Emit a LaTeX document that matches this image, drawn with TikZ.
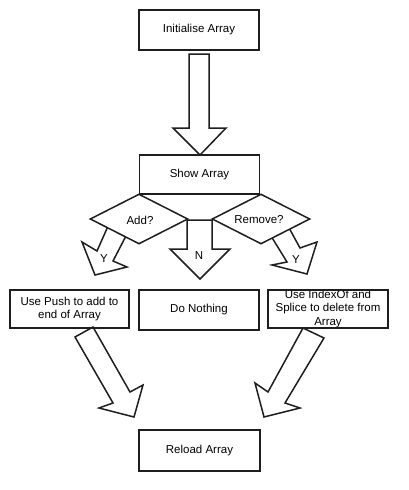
\documentclass[tikz,border=0pt]{standalone}
\usepackage{fontspec}
\setmainfont{Liberation Sans}
\usetikzlibrary{shapes.geometric}
\begin{document}
\begin{tikzpicture}[x=1pt,y=-1pt,
  line join=miter,
  ln/.style={draw={rgb,255:red,30;green,30;blue,30},line width=1.5pt},
  box/.style={ln,fill=white,rectangle,inner sep=0pt,minimum width=120pt,minimum height=40pt,
    font=\fontsize{11.5}{13.5}\selectfont,align=center},
  dia/.style={ln,fill=white,diamond,inner sep=0pt,minimum width=98pt,minimum height=50pt,
    font=\fontsize{11.5}{13.5}\selectfont},
  blk/.style={ln,fill=white},
  lbl/.style={font=\fontsize{11.5}{13.5}\selectfont,inner sep=0pt}]
\useasboundingbox[fill=white] (0,0) rectangle (408,490);

% boxes
\node[box] (init) at (199,30) {Initialise Array};
\node[box,minimum height=39pt] (show) at (199.5,174.5) {Show Array};
\node[box,minimum width=119pt,minimum height=38pt] (push) at (69.5,309) {Use Push to add to\\end of Array};
\node[box,minimum height=40pt] (none) at (199,310) {Do Nothing};
\node[box,minimum height=38pt] (splice) at (328,309) {Use IndexOf and\\Splice to delete from\\Array};
\node[box,minimum width=121pt,minimum height=41pt] (reload) at (199.5,450.5) {Reload Array};

% main block arrow
\draw[blk] (189,54) -- (189,128) -- (173,128) -- (200,155) -- (226,128) -- (209,128) -- (209,54) -- cycle;

% Y arrows (behind diamonds)
\draw[blk] (109,224) -- (97,251) -- (82,242) -- (95,275) -- (127,267) -- (113,261) -- (127,234) -- cycle;
\draw[blk] (271,236) -- (287,262) -- (272,265) -- (307,274) -- (317,242) -- (300,248) -- (288,226) -- cycle;

% diamonds
\node[dia] (add) at (139,219) {};
\node[dia] (rem) at (261,219) {};
\node[lbl] at (140,220) {Add?};
\node[lbl] at (259,220) {Remove?};

% N arrow
\draw[blk] (187,220) -- (187,249) -- (170,249) -- (200,279) -- (230,249) -- (212,249) -- (212,220) -- cycle;

\node[lbl] (ly) at (104,259) {Y};
\node[lbl] (ry) at (296,260) {Y};
\node[lbl] (ln) at (199,256) {N};

% bottom block arrows
\draw[blk] (75,337) -- (113,403) -- (99,408) -- (134,417) -- (143,385) -- (130,392) -- (93,327) -- cycle;
\draw[blk] (303,328) -- (268,392) -- (255,383) -- (264,417) -- (300,408) -- (285,403) -- (324,338) -- cycle;

% redraw boxes whose edge the arrows touch
\node[box,minimum width=119pt,minimum height=38pt,fill=none] at (push) {};
\node[box,minimum height=38pt,fill=none] at (splice) {};
\end{tikzpicture}
\end{document}
